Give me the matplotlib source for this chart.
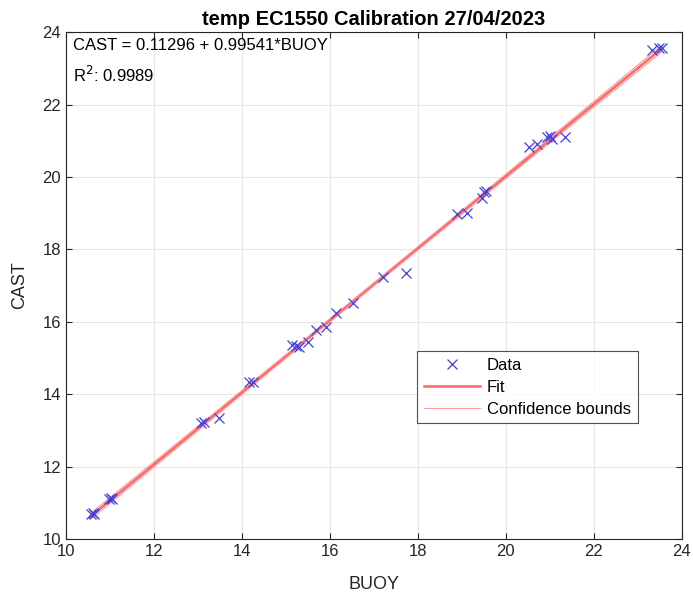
import numpy as np
import matplotlib
matplotlib.use("Agg")
import matplotlib.pyplot as plt

# values
buoy = [10.58, 10.62, 10.65, 10.97, 11.02, 11.05, 13.08, 13.15, 13.49,
        14.17, 14.25, 15.15, 15.22, 15.30, 15.50, 15.69, 15.91, 16.14,
        16.52, 17.20, 17.72, 18.90, 19.12, 19.46, 19.50, 19.55, 20.52,
        20.71, 20.94, 21.00, 21.05, 21.34, 23.32, 23.47, 23.54]
cast = [10.68, 10.72, 10.70, 11.10, 11.13, 11.10, 13.20, 13.22, 13.33,
        14.35, 14.33, 15.36, 15.33, 15.30, 15.45, 15.77, 15.86, 16.23,
        16.53, 17.25, 17.36, 18.97, 19.01, 19.41, 19.59, 19.62, 20.84,
        20.91, 21.10, 21.12, 21.04, 21.11, 23.51, 23.56, 23.56]
intercept = 0.11296
slope = 0.99541
r2 = 0.9989

x = np.array(buoy)
y = np.array(cast)

# fit line and 95% confidence bounds for the mean
xf = np.linspace(x.min(), x.max(), 100)
yf = intercept + slope * xf
n = len(x)
resid = y - (intercept + slope * x)
s = np.sqrt(np.sum(resid**2) / (n - 2))
se = s * np.sqrt(1 / n + (xf - x.mean())**2 / np.sum((x - x.mean())**2))
t = 2.03
lo = yf - t * se
hi = yf + t * se

plt.rcParams['font.family'] = ['Liberation Sans', 'DejaVu Sans']

fig = plt.figure(figsize=(6.93, 5.95), dpi=100)
ax = fig.add_axes([0.095, 0.094, 0.889, 0.852])

ax.plot(x, y, 'x', color='#4040dd', ms=6.5, mew=0.9, label='Data', zorder=3)
ax.plot(xf, yf, color='#ff3333', lw=1.8, alpha=0.75, label='Fit', zorder=2)
ax.plot(xf, lo, color='#ff9999', lw=0.8, label='Confidence bounds', zorder=2)
ax.plot(xf, hi, color='#ff9999', lw=0.8, zorder=2)

ax.set_xlim(10, 24)
ax.set_ylim(10, 24)
ax.set_xticks(range(10, 25, 2))
ax.set_yticks(range(10, 25, 2))
ax.grid(True, color='#e6e6e6', lw=0.8)
ax.set_axisbelow(True)
ax.tick_params(direction='in', labelsize=12, colors='#262626', length=4,
               top=True, right=True, labeltop=False, labelright=False)
for sp in ax.spines.values():
    sp.set_color('#262626')
    sp.set_linewidth(0.8)

ax.set_xlabel('BUOY', fontsize=13, color='#262626', labelpad=12)
ax.set_ylabel('CAST', fontsize=13, color='#262626', labelpad=10)
ax.set_title('temp EC1550 Calibration 27/04/2023', fontsize=14.5,
             fontweight='bold', pad=5)

ax.text(0.012, 0.988, f'CAST = {intercept} + {slope}*BUOY', transform=ax.transAxes,
        fontsize=12, va='top', ha='left')
ax.text(0.012, 0.935, f'R$^2$: {r2}', transform=ax.transAxes,
        fontsize=12, va='top', ha='left')

leg = ax.legend(loc='lower left', bbox_to_anchor=(0.570, 0.228),
                fontsize=12, frameon=True, fancybox=False,
                edgecolor='#262626', handlelength=3.4, handletextpad=0.4,
                borderpad=0.4, borderaxespad=0, labelspacing=0.42)
leg.get_frame().set_linewidth(0.8)

fig.savefig('out.png', dpi=100)
